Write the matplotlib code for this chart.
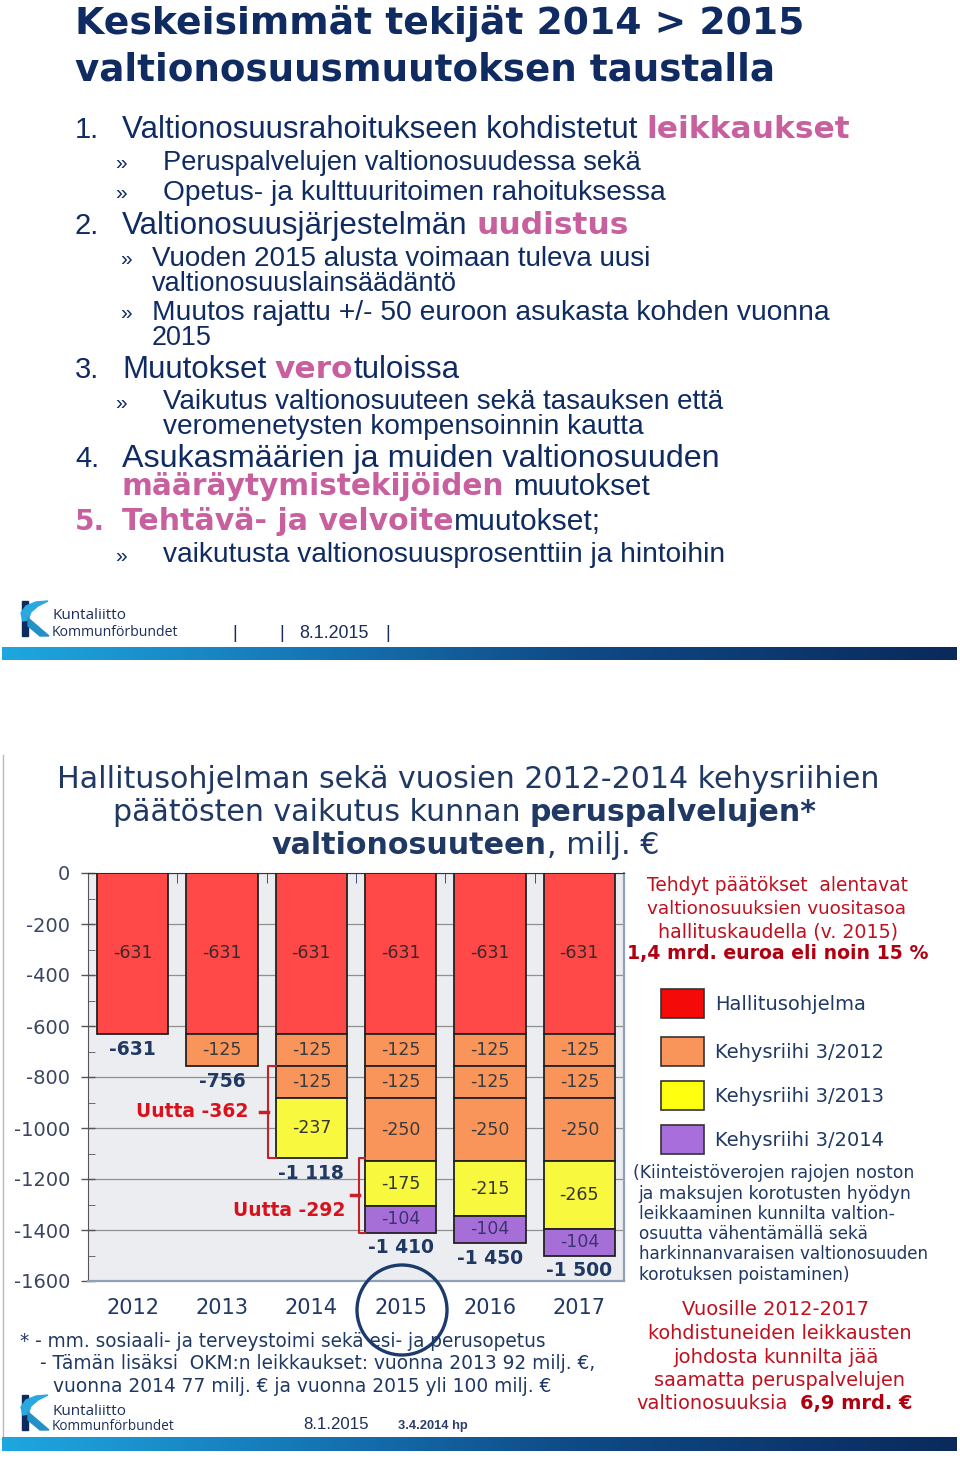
import numpy as np
import matplotlib
matplotlib.use('Agg')
import matplotlib.pyplot as plt
from matplotlib.patches import Rectangle, Polygon, Circle
from matplotlib.colors import LinearSegmentedColormap
from matplotlib.ticker import FixedLocator, MultipleLocator

# ---------------- data ----------------
years = ['2012', '2013', '2014', '2015', '2016', '2017']
hallitusohjelma = [-631, -631, -631, -631, -631, -631]
kehysriihi_2012_a = [0, -125, -125, -125, -125, -125]
kehysriihi_2012_b = [0, 0, -125, -125, -125, -125]
kehysriihi_2012_c = [0, 0, 0, -250, -250, -250]
kehysriihi_2013 = [0, 0, -237, -175, -215, -265]
kehysriihi_2014 = [0, 0, 0, -104, -104, -104]
totals = [-631, -756, -1118, -1410, -1450, -1500]
total_labels = ['-631', '-756', '-1 118', '-1 410', '-1 450', '-1 500']
y_ticks = [0, -200, -400, -600, -800, -1000, -1200, -1400, -1600]
legend_names = ['Hallitusohjelma', 'Kehysriihi 3/2012', 'Kehysriihi 3/2013', 'Kehysriihi 3/2014']

# ---------------- styles ----------------
W, H = 960, 1458
NAVY_T = '#0f2b62'
PINK = '#c8609f'
NAVY_C = '#1f3864'
RED_T = '#c0101e'
RED_B = '#b00010'
RED_U = '#d8121c'
C_RED, C_OR, C_YE, C_PU = '#ff4848', '#f9955a', '#f8f83e', '#a66fd8'
L_RED, L_OR, L_YE, L_PU = '#f50a0a', '#f9955a', '#ffff10', '#a86fdc'

plt.rcParams['font.family'] = ['DejaVu Sans']

fig = plt.figure(figsize=(W / 100, H / 100), dpi=100)
fig.patch.set_facecolor('white')
ov = fig.add_axes([0, 0, 1, 1], zorder=5)
ov.set_xlim(0, W)
ov.set_ylim(H, 0)
ov.set_autoscale_on(False)
ov.axis('off')
R = fig.canvas.get_renderer()

STY = {
    'tt': dict(family='DejaVu Sans', weight='bold', color=NAVY_T),
    'tn': dict(family='Liberation Sans', color=NAVY_T),
    'tp': dict(family='DejaVu Sans', weight='bold', color=PINK),
    'cn': dict(family='DejaVu Sans', color=NAVY_C),
    'cb': dict(family='DejaVu Sans', weight='bold', color=NAVY_C),
    'rn': dict(family='DejaVu Sans', color=RED_T),
    'rb': dict(family='DejaVu Sans', weight='bold', color=RED_B),
    'lg': dict(family='Open Sans', color='#1c2d5a'),
    'ft': dict(family='Liberation Sans', color='#1c2d5a'),
    'fb': dict(family='Liberation Sans', weight='bold', color='#2a3d6a'),
}


def measure(s, fs, props):
    t = ov.text(0, 0, s, fontsize=fs, **props)
    w = t.get_window_extent(renderer=R).width
    t.remove()
    return w


def rich(x, y, segs, size, right=None):
    def layout(sz):
        items, total = [], 0.0
        for txt, key in segs:
            props = STY[key]
            core = txt.strip(' ')
            lead = len(txt) - len(txt.lstrip(' '))
            trail = len(txt) - len(txt.rstrip(' '))
            sw = 0.0
            if lead or trail:
                sw = measure('n n', sz, props) - measure('nn', sz, props)
            w = measure(core, sz, props)
            items.append((core, props, lead * sw, w, trail * sw))
            total += lead * sw + w + trail * sw
        return items, total

    items, total = layout(size)
    if right is not None and total > 0:
        size = size * (right - x) / total
        items, total = layout(size)
    cx = x
    for core, props, l, w, tr in items:
        cx += l
        ov.text(cx, y, core, fontsize=size, va='baseline', ha='left', **props)
        cx += w + tr


GRAD = LinearSegmentedColormap.from_list(
    'g', [(0, '#1ea7df'), (0.3, '#1679b8'), (0.6, '#0f4a86'), (1.0, '#0a2a5c')])


def grad_bar(y0, y1):
    g = np.linspace(0, 1, 256).reshape(1, -1)
    ov.imshow(g, extent=[2, 957, y1, y0], aspect='auto', cmap=GRAD,
              interpolation='bilinear', zorder=1)


def logo(ox, oy, y1, y2, right):
    ov.add_patch(Rectangle((ox, oy), 6, 35, color='#0f2a5c', zorder=2))
    ov.add_patch(Polygon([(ox + 1, oy + 20), (ox - 1, oy + 12), (ox + 4, oy + 5),
                          (ox + 14, oy + 1), (ox + 26, oy + 0), (ox + 16, oy + 5),
                          (ox + 9, oy + 11), (ox + 6, oy + 19)],
                         closed=True, color='#2aa8e0', zorder=3))
    ov.add_patch(Polygon([(ox + 6, oy + 17), (ox + 27, oy + 35), (ox + 18, oy + 35),
                          (ox + 6, oy + 25)], closed=True, color='#2390c8', zorder=3))
    rich(ox + 30, y1, [('Kuntaliitto', 'lg')], 11)
    rich(ox + 30, y2, [('Kommunförbundet', 'lg')], 11, right)


# ---------------- top slide ----------------
rich(75, 34, [('Keskeisimmät tekijät 2014 > 2015', 'tt')], 27, 805)
rich(75, 80, [('valtionosuusmuutoksen taustalla', 'tt')], 27, 775)

rich(75, 138, [('1.', 'tn')], 21)
rich(122, 138, [('Valtionosuusrahoitukseen kohdistetut ', 'tn'), ('leikkaukset', 'tp')], 20, 848)
rich(115, 169, [('»', 'tn')], 15)
rich(163, 170, [('Peruspalvelujen valtionosuudessa sekä', 'tn')], 19, 640)
rich(115, 199, [('»', 'tn')], 15)
rich(163, 200, [('Opetus- ja kulttuuritoimen rahoituksessa', 'tn')], 19, 667)

rich(75, 234, [('2.', 'tn')], 21)
rich(122, 234, [('Valtionosuusjärjestelmän ', 'tn'), ('uudistus', 'tp')], 20, 628)
rich(120, 265, [('»', 'tn')], 15)
rich(152, 266, [('Vuoden 2015 alusta voimaan tuleva uusi', 'tn')], 19, 651)
rich(152, 291, [('valtionosuuslainsäädäntö', 'tn')], 19, 458)
rich(120, 319, [('»', 'tn')], 15)
rich(152, 320, [('Muutos rajattu +/- 50 euroon asukasta kohden vuonna', 'tn')], 19, 830)
rich(152, 345, [('2015', 'tn')], 19, 212)

rich(75, 378, [('3.', 'tn')], 21)
rich(122, 378, [('Muutokset ', 'tn'), ('vero', 'tp'), ('tuloissa', 'tn')], 20, 459)
rich(115, 409, [('»', 'tn')], 15)
rich(163, 409, [('Vaikutus valtionosuuteen sekä tasauksen että', 'tn')], 19, 725)
rich(163, 434, [('veromenetysten kompensoinnin kautta', 'tn')], 19, 643)

rich(75, 467, [('4.', 'tn')], 21)
rich(122, 467, [('Asukasmäärien ja muiden valtionosuuden', 'tn')], 20, 717)
rich(122, 495, [('määräytymistekijöiden', 'tp'), (' muutokset', 'tn')], 20, 650)

rich(75, 530, [('5.', 'tp')], 20)
rich(122, 530, [('Tehtävä- ja velvoite', 'tp'), ('muutokset;', 'tn')], 20, 600)
rich(115, 562, [('»', 'tn')], 15)
rich(163, 562, [('vaikutusta valtionosuusprosenttiin ja hintoihin', 'tn')], 19, 726)

logo(22, 601, 619, 636, 178)
for xx in (235, 282, 388):
    ov.text(xx, 638, '|', fontsize=13, family='Liberation Sans', color='#1c2d5a',
            ha='center', va='baseline')
rich(299, 638, [('8.1.2015', 'ft')], 13, 368)
grad_bar(647, 660)

# ---------------- bottom slide ----------------
ov.plot([2.5, 2.5], [755, 1437], color='#b8b8b8', lw=1, zorder=1)

rich(57, 788, [('Hallitusohjelman sekä vuosien 2012-2014 kehysriihien', 'cn')], 19, 876)
rich(113, 821, [('päätösten vaikutus kunnan ', 'cn'), ('peruspalvelujen*', 'cb')], 19, 818)
rich(272, 854, [('valtionosuuteen', 'cb'), (', milj. €', 'cn')], 19, 660)

# chart
ax = fig.add_axes([88 / W, (H - 1281) / H, (624 - 88) / W, (1281 - 873) / H], zorder=2)
x = np.arange(len(years))
stack = [(hallitusohjelma, C_RED, '#3b2828'),
         (kehysriihi_2012_a, C_OR, '#3a3a3a'),
         (kehysriihi_2012_b, C_OR, '#3a3a3a'),
         (kehysriihi_2012_c, C_OR, '#3a3a3a'),
         (kehysriihi_2013, C_YE, '#333333'),
         (kehysriihi_2014, C_PU, '#3d3270')]
bottom = np.zeros(len(years))
for vals, col, lc in stack:
    v = np.array(vals, dtype=float)
    m = v != 0
    bc = ax.bar(x[m], v[m], 0.8, bottom=bottom[m], color=col, edgecolor='#222222',
                linewidth=1.3, zorder=3)
    ax.bar_label(bc, labels=[str(int(a)) for a in v[m]], label_type='center',
                 fontsize=12.5, color=lc)
    bottom += v

for i, (t, lab) in enumerate(zip(totals, total_labels)):
    ax.annotate(lab, (x[i], t), xytext=(0, -11), textcoords='offset points',
                ha='center', va='center', fontsize=13.5, fontweight='bold', color=NAVY_C,
                zorder=4)


def bracket(xv, y0, y1, hook_to, tick_to):
    ax.plot([hook_to, xv, xv, hook_to], [y0, y0, y1, y1], color='#c8202a', lw=1.5,
            clip_on=False, zorder=4)
    ym = (y0 + y1) / 2
    ax.plot([xv, tick_to], [ym, ym], color='#c8202a', lw=2.5, clip_on=False, zorder=4)


bracket(1.52, totals[1], totals[2], 1.6, 1.43)
ax.text(1.30, (totals[1] + totals[2]) / 2, 'Uutta -%d' % (totals[1] - totals[2]),
        ha='right', va='center', color=RED_U, fontweight='bold', fontsize=13.5, zorder=4)
bracket(2.53, totals[2], totals[3], 2.6, 2.44)
ax.text(2.38, -1325, 'Uutta -%d' % (totals[2] - totals[3]),
        ha='right', va='center', color=RED_U, fontweight='bold', fontsize=13.5, zorder=4)

ax.set_xlim(-0.5, len(years) - 0.5)
ax.set_ylim(-1600, 0)
ax.set_facecolor('#ecedf0')
ax.set_yticks(y_ticks)
ax.set_yticklabels([str(v) for v in y_ticks])
ax.yaxis.set_minor_locator(MultipleLocator(100))
ax.tick_params(axis='y', which='major', direction='inout', length=10, width=1,
               color='#555555', labelsize=14, labelcolor='#3a4560', pad=8)
ax.tick_params(axis='y', which='minor', direction='in', length=5, color='#555555')
ax.set_xticks(x)
ax.set_xticklabels(years)
ax.tick_params(axis='x', which='major', length=0, pad=12, labelsize=15, labelcolor=NAVY_C)
ax.xaxis.set_minor_locator(FixedLocator(x[:-1] + 0.5))
ax.tick_params(axis='x', which='minor', top=True, bottom=False, direction='in',
               length=7, color=NAVY_C)
ax.grid(axis='y', which='major', color='#909090', lw=0.9)
ax.set_axisbelow(True)
ax.spines['left'].set_color('#555555')
ax.spines['top'].set_color(NAVY_C)
for s in ('right', 'bottom'):
    ax.spines[s].set_color('#8fa0b8')
    ax.spines[s].set_linewidth(1.6)

# right-hand texts
rich(647, 891, [('Tehdyt päätökset  alentavat', 'rn')], 14, 908)
rich(647, 914, [('valtionosuuksien vuositasoa', 'rn')], 14, 908)
rich(658, 937, [('hallituskaudella (v. 2015)', 'rn')], 14, 898)
rich(627, 959, [('1,4 mrd. euroa eli noin 15 %', 'rb')], 14, 928)

leg_cols = [L_RED, L_OR, L_YE, L_PU]
leg_tops = [989, 1037, 1081, 1125]
for name, col, top in zip(legend_names, leg_cols, leg_tops):
    ov.add_patch(Rectangle((661, top), 43, 29, facecolor=col, edgecolor='#333333', lw=1.2))
    ov.text(715, top + 21, name, fontsize=14, color=NAVY_C, va='baseline', ha='left')

paren = [(633, 1178, '(Kiinteistöverojen rajojen noston', 912),
         (638, 1199, 'ja maksujen korotusten hyödyn', 908),
         (639, 1219, 'leikkaaminen kunnilta valtion-', 895),
         (639, 1239, 'osuutta vähentämällä sekä', 868),
         (639, 1259, 'harkinnanvaraisen valtionosuuden', 927),
         (639, 1280, 'korotuksen poistaminen)', 850)]
for px, py, s, pr in paren:
    rich(px, py, [(s, 'cn')], 12, pr)

rich(682, 1315, [('Vuosille 2012-2017', 'rn')], 14, 870)
rich(648, 1339, [('kohdistuneiden leikkausten', 'rn')], 14, 912)
rich(673, 1363, [('johdosta kunnilta jää', 'rn')], 14, 880)
rich(654, 1386, [('saamatta peruspalvelujen', 'rn')], 14, 905)
rich(636, 1409, [('valtionosuuksia  ', 'rn'), ('6,9 mrd. €', 'rb')], 14, 912)

rich(20, 1347, [('* - mm. sosiaali- ja terveystoimi sekä esi- ja perusopetus', 'cn')], 13, 548)
rich(40, 1369, [('- Tämän lisäksi  OKM:n leikkaukset: vuonna 2013 92 milj. €,', 'cn')], 13, 597)
rich(53, 1392, [('vuonna 2014 77 milj. € ja vuonna 2015 yli 100 milj. €', 'cn')], 13, 550)

ov.add_patch(Circle((402, 1310), 45, fill=False, ec='#1b3a6e', lw=2.4, zorder=6))

logo(22, 1395, 1415, 1430, 175)
rich(303, 1429, [('8.1.2015', 'ft')], 13, 368)
rich(398, 1429, [('3.4.2014 hp', 'fb')], 10, 468)
grad_bar(1437, 1451)

fig.savefig('out.png', dpi=100, facecolor='white')
